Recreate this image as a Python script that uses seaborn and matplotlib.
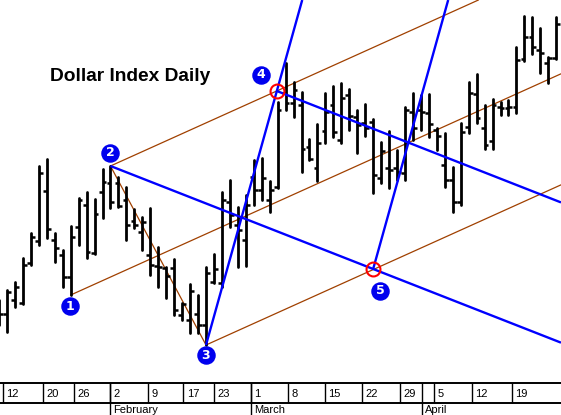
import numpy as np
import pandas as pd
import matplotlib
matplotlib.use("Agg")
import matplotlib.pyplot as plt
import seaborn as sns
from matplotlib.transforms import offset_copy

# ---------------- data (price units, arbitrary scale) ----------------
bar_idx = list(range(-1, 70))
high = [100, 110, 118, 142, 167, 234, 241, 167, 150, 174, 202, 208, 201, 231, 234, 223,
        213, 191, 183, 192, 153, 133, 141, 97, 116, 105, 133, 146, 208, 220, 193, 205,
        240, 242, 219, 298, 337, 318, 308, 261, 276, 307, 314, 317, 311, 290, 296, 281,
        258, 269, 250, 293, 307, 305, 306, 272, 267, 233, 277, 318, 326, 295, 301, 298,
        300, 353, 384, 383, 372, 343, 383]
low = [75, 68, 93, 96, 135, 155, 162, 138, 113, 105, 155, 142, 146, 182, 192, 193,
       160, 172, 150, 125, 113, 102, 85, 80, 67, 67, 55, 117, 113, 173, 133, 134,
       195, 200, 188, 212, 290, 283, 228, 240, 219, 257, 263, 257, 270, 247, 264, 207,
       217, 212, 220, 220, 260, 270, 263, 250, 213, 188, 195, 267, 277, 251, 251, 285,
       285, 287, 339, 346, 327, 317, 341]
open_ = [80, 86, 100, 97, 137, 159, 209, 160, 145, 123, 173, 195, 147, 208, 217, 217,
         200, 179, 168, 145, 134, 132, 132, 85, 80, 86, 75, 118, 117, 198, 175, 160,
         223, 210, 200, 213, 307, 297, 295, 253, 232, 269, 295, 260, 305, 283, 277, 278,
         222, 232, 232, 227, 288, 290, 287, 270, 235, 220, 198, 273, 306, 272, 259, 293,
         292, 293, 341, 363, 350, 337, 342]
close = [86, 108, 113, 135, 163, 227, 171, 152, 123, 163, 200, 148, 186, 218, 198, 194,
         175, 175, 178, 135, 133, 124, 90, 96, 109, 75, 127, 131, 200, 185, 170, 195,
         210, 222, 210, 290, 297, 310, 251, 241, 257, 288, 268, 302, 284, 275, 272, 225,
         249, 230, 228, 290, 272, 288, 276, 264, 220, 198, 268, 307, 282, 255, 295, 292,
         293, 340, 363, 353, 347, 342, 376]

day_tick_pos = [-0.54, 4.56, 8.42, 12.94, 17.68, 22.15, 26.04, 30.6, 35.3, 39.95,
                44.6, 49.4, 53.6, 58.4, 63.4]
day_tick_lab = ["12", "20", "26", "2", "9", "17", "23", "1", "8", "15", "22", "29",
                "5", "12", "19"]
month_pos = [12.94, 30.6, 52.1]
month_lab = ["February", "March", "April"]

pivot_x = [8, 13, 25, 33.9, 46]
pivot_y = [105, 234, 55, 309, 131]
pivot_lab = ["1", "2", "3", "4", "5"]

title = "Dollar Index Daily"

# ---------------- layout ----------------
W, H, DPI = 561, 415, 100
PX = 7.96                      # pixels per trading day
XLIM = (-7 / PX, (W - 7) / PX)
YLIM = (17, 400)
STRIP = 32                     # px height of the date strip

sns.set_theme(style="white")
plt.rcParams["font.family"] = ["Liberation Sans", "DejaVu Sans"]

fig = plt.figure(figsize=(W / DPI, H / DPI), dpi=DPI)
ax = fig.add_axes([0, STRIP / H, 1, (H - STRIP) / H])
ax2 = fig.add_axes([0, 0, 1, STRIP / H])

# ---------------- OHLC bars ----------------
df = pd.DataFrame({"idx": bar_idx * 2, "price": high + low})
sns.lineplot(data=df, x="idx", y="price", units="idx", estimator=None,
             color="black", linewidth=2.0, legend=False, ax=ax, zorder=3)
bi = np.array(bar_idx, dtype=float)
tl = 0.48
ax.hlines(open_, bi - tl, bi, color="black", linewidth=1.8, zorder=3)
ax.hlines(close, bi, bi + tl, color="black", linewidth=1.8, zorder=3)


def ray(p0, d):
    ts = []
    for k, (lo, hi) in enumerate([XLIM, YLIM]):
        if d[k] > 0:
            ts.append((hi - p0[k]) / d[k])
        elif d[k] < 0:
            ts.append((lo - p0[k]) / d[k])
    t = min(ts)
    return [p0[0], p0[0] + t * d[0]], [p0[1], p0[1] + t * d[1]]


P = list(zip(pivot_x, pivot_y))
brown = "#A04000"
blue = "#0000FF"
mid = ((P[1][0] + P[2][0]) / 2, (P[1][1] + P[2][1]) / 2)
dmed = (mid[0] - P[0][0], mid[1] - P[0][1])
for p in (P[0], P[1], P[2]):
    xs, ys = ray(p, dmed)
    ax.plot(xs, ys, color=brown, lw=0.9, zorder=2)
ax.plot([P[1][0], P[2][0]], [P[1][1], P[2][1]], color=brown, lw=0.9, zorder=2)

d25 = (P[4][0] - P[1][0], P[4][1] - P[1][1])
d34 = (P[3][0] - P[2][0], P[3][1] - P[2][1])
for p, d in ((P[1], d25), (P[3], d25), (P[2], d34), (P[4], d34)):
    xs, ys = ray(p, d)
    ax.plot(xs, ys, color=blue, lw=1.7, zorder=4, solid_capstyle="butt")

# red circles at 4 and 5
ax.plot([P[3][0], P[4][0]], [P[3][1], P[4][1]], "o", ms=10, mfc="none",
        mec="#FF0000", mew=1.5, zorder=5)

# numbered blue labels
label_dx = [-1, 0, 0, -16, 7]
label_dy = [-11, 13, -10, 16, -22]
for (px, py), lab, dx, dy in zip(P, pivot_lab, label_dx, label_dy):
    tr = offset_copy(ax.transData, fig=fig, x=dx, y=dy, units="dots")
    ax.plot([px], [py], "o", ms=12.3, color="#0000EE", mec="#0000EE",
            transform=tr, zorder=6, clip_on=False)
    ax.text(px, py, lab, transform=tr, color="white", fontsize=9,
            fontweight="bold", ha="center", va="center", zorder=7,
            family=["DejaVu Sans"])

ax.set_xlim(*XLIM)
ax.set_ylim(*YLIM)
ax.set_xticks([])
ax.set_yticks([])
ax.set_xlabel("")
ax.set_ylabel("")
for s in ax.spines.values():
    s.set_visible(False)

fig.text(50 / W, (H - 81) / H, title, fontsize=13.8, fontweight="bold",
         ha="left", va="baseline", color="black")

# ---------------- date strip ----------------
ax2.set_xlim(*XLIM)
ax2.set_ylim(0, STRIP)
ax2.set_xticks([])
ax2.set_yticks([])
for k, s in ax2.spines.items():
    s.set_visible(k == "top")
ax2.spines["top"].set_color("black")
ax2.spines["top"].set_linewidth(1.4)
ax2.axhline(12, color="black", lw=1.4)
ax2.vlines(day_tick_pos, 12, STRIP, color="black", lw=1.0)
ax2.vlines(month_pos, 0, STRIP, color="black", lw=1.0)
tr_txt = offset_copy(ax2.transData, fig=fig, x=3.5, y=0, units="dots")
for xp, lab in zip(day_tick_pos, day_tick_lab):
    ax2.text(xp, 21.5, lab, transform=tr_txt, fontsize=8, ha="left",
             va="center", color="black")
for xp, lab in zip(month_pos, month_lab):
    ax2.text(xp, 5.5, lab, transform=tr_txt, fontsize=8, ha="left",
             va="center", color="black")

fig.savefig("out.png", dpi=DPI)
